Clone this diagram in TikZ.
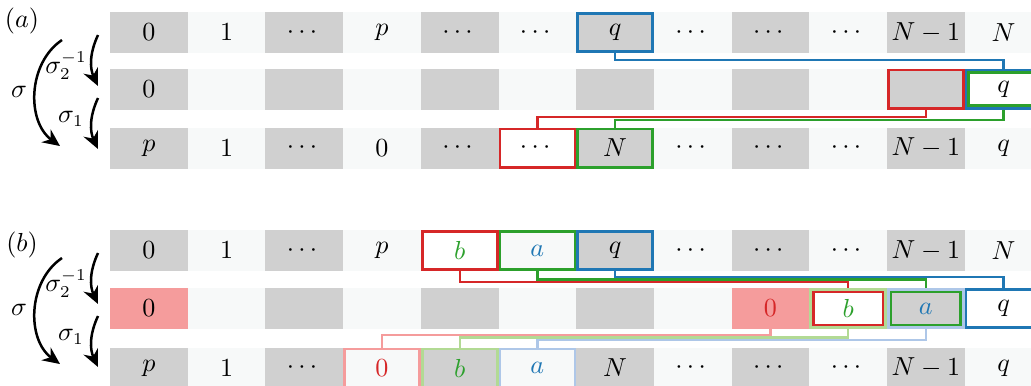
\documentclass[tikz,border=0pt]{standalone}
\usepackage{amsmath}
\usepackage{xcolor}
\usepackage{tikz}
\usetikzlibrary{arrows.meta,positioning,calc}
\definecolor{cellGray}{HTML}{D0D0D0}
\definecolor{cellLight}{HTML}{F7F9F9}
\definecolor{tabBlue}{HTML}{1F77B4}
\definecolor{tabRed}{HTML}{D62728}
\definecolor{tabGreen}{HTML}{2CA02C}
\definecolor{paleBlue}{HTML}{AEC7E8}
\definecolor{paleGreen}{HTML}{B2DA94}
\definecolor{paleRed}{HTML}{F59C9C}
\tikzset{
  % one row of the permuted array: gray / light cells
  cell/.style={
    minimum width=32.63pt,
    minimum height=17.22pt,
    inner sep=0pt,
    outer sep=0pt
  },
  hl/.style={
    draw=#1,
    line width=1.13pt,
    minimum width=31.5pt,
    minimum height=16.1pt,
    inner sep=0pt,
    outer sep=0pt
  },
  inbox/.style={
    draw=#1,
    line width=1.13pt,
    minimum width=29.2pt,
    minimum height=13.8pt,
    inner sep=0pt,
    outer sep=0pt
  },
  link/.style={
    draw=#1,
    line width=0.97pt
  },
  turn/.style={
    -{Stealth[length=7.2pt,width=6.6pt]},
    line width=1.05pt
  }
}
\newcommand{\cellrow}[3]{%
  \foreach \t [count=\i from 0] in {#3}{
    \ifodd\i \def\shade{cellLight}\else\def\shade{cellGray}\fi
    \node[cell, fill=\shade] (#1-\i) at ({148.85+77.7*\i},#2) {$\t$};
  }}

\begin{document}
\begin{tikzpicture}[x=0.42pt,y=-0.42pt,font=\fontsize{10.6}{12.5}\selectfont]
\useasboundingbox (0,0) rectangle (1031,385);

% ---------------- panel (a)
\cellrow{a1}{32.5}{0,1,\cdots,p,\cdots,\cdots,{},\cdots,\cdots,\cdots,N-1,N}
\cellrow{a2}{89}{0,{},{},{},{},{},{},{},{},{},{},{}}
\cellrow{a3}{148}{p,1,\cdots,0,\cdots,{},{},\cdots,\cdots,\cdots,N-1,q}

\node[hl=tabBlue] (a1q) at (a1-6) {$q$};
\node[hl=tabRed] (a2r) at (a2-10) {};
\node[hl=tabBlue, fill=white] (a2b) at (a2-11) {};
\node[inbox=tabGreen, fill=white] (a2q) at (a2-11) {$q$};
\node[hl=tabRed, fill=white] (a3d) at (a3-5) {$\cdots$};
\node[hl=tabGreen] (a3n) at (a3-6) {$N$};

\draw[link=tabBlue] (a1-6.south) -- ++(0,7) -| (a2-11.north);
\draw[link=tabRed] (a2-10.south) -- ++(0,7.5) -| (a3-5.north);
\draw[link=tabGreen] (a2-11.south) -- ++(0,10.5) -| (a3-6.north);

\node (alab) at (22,21) {$(a)$};
\coordinate (a-s2in) at (98,35);
\coordinate (a-s2out) at (98,86);
\coordinate (a-s1in) at (98,98);
\coordinate (a-s1out) at (98,149);
\coordinate (a-sin) at (62,40);
\coordinate (a-sout) at (60,146);
\draw[turn] (a-s2in) to[bend right=25] (a-s2out);
\draw[turn] (a-s1in) to[bend right=25] (a-s1out);
\draw[turn] (a-sin) to[bend right=55] (a-sout);
\node (a-s2lab) at (66,66) {$\sigma_2^{-1}$};
\node (a-s1lab) at (71,119) {$\sigma_1$};
\node (a-slab) at (19,92) {$\sigma$};

% ---------------- panel (b)
\cellrow{b1}{250.5}{0,1,\cdots,p,{},{},{},\cdots,\cdots,\cdots,N-1,N}
\cellrow{b2}{308.5}{{},{},{},{},{},{},{},{},{},{},{},{}}
\cellrow{b3}{368}{p,1,\cdots,{},{},{},N,\cdots,\cdots,\cdots,N-1,q}

\node[hl=tabRed, fill=white] (b1b) at (b1-4) {$\textcolor{tabGreen}{b}$};
\node[hl=tabGreen] (b1a) at (b1-5) {$\textcolor{tabBlue}{a}$};
\node[hl=tabBlue] (b1q) at (b1-6) {$q$};
\node[cell, fill=paleRed] (b2z) at (b2-0) {$0$};
\node[cell, fill=paleRed] (b2y) at (b2-8) {$\textcolor{tabRed}{0}$};
\node[hl=paleGreen] (b2g) at (b2-9) {};
\node[inbox=tabRed, fill=white] (b2b) at (b2-9) {$\textcolor{tabGreen}{b}$};
\node[hl=paleBlue] (b2l) at (b2-10) {};
\node[inbox=tabGreen] (b2a) at (b2-10) {$\textcolor{tabBlue}{a}$};
\node[hl=tabBlue, fill=white] (b2q) at (b2-11) {$q$};
\node[hl=paleRed] (b3z) at (b3-3) {$\textcolor{tabRed}{0}$};
\node[hl=paleGreen] (b3b) at (b3-4) {$\textcolor{tabGreen}{b}$};
\node[hl=paleBlue] (b3a) at (b3-5) {$\textcolor{tabBlue}{a}$};

\draw[link=tabBlue] (b1-6.south) -- ++(0,6) -| (b2-11.north);
\draw[link=tabGreen] (b1-5.south) -- ++(0,8.5) -| (b2-10.north);
\draw[link=tabRed] (b1-4.south) -- ++(0,11) -| (b2-9.north);
\draw[link=paleRed] (b2-8.south) -- ++(0,6) -| (b3-3.north);
\draw[link=paleGreen] (b2-9.south) -- ++(0,8.5) -| (b3-4.north);
\draw[link=paleBlue] (b2-10.south) -- ++(0,11) -| (b3-5.north);

\node (blab) at (22,245) {$(b)$};
\coordinate (b-s2in) at (98,253);
\coordinate (b-s2out) at (98,304);
\coordinate (b-s1in) at (98,316);
\coordinate (b-s1out) at (98,367);
\coordinate (b-sin) at (62,258);
\coordinate (b-sout) at (60,364);
\draw[turn] (b-s2in) to[bend right=25] (b-s2out);
\draw[turn] (b-s1in) to[bend right=25] (b-s1out);
\draw[turn] (b-sin) to[bend right=55] (b-sout);
\node (b-s2lab) at (66,284) {$\sigma_2^{-1}$};
\node (b-s1lab) at (71,337) {$\sigma_1$};
\node (b-slab) at (19,310) {$\sigma$};

\end{tikzpicture}
\end{document}
